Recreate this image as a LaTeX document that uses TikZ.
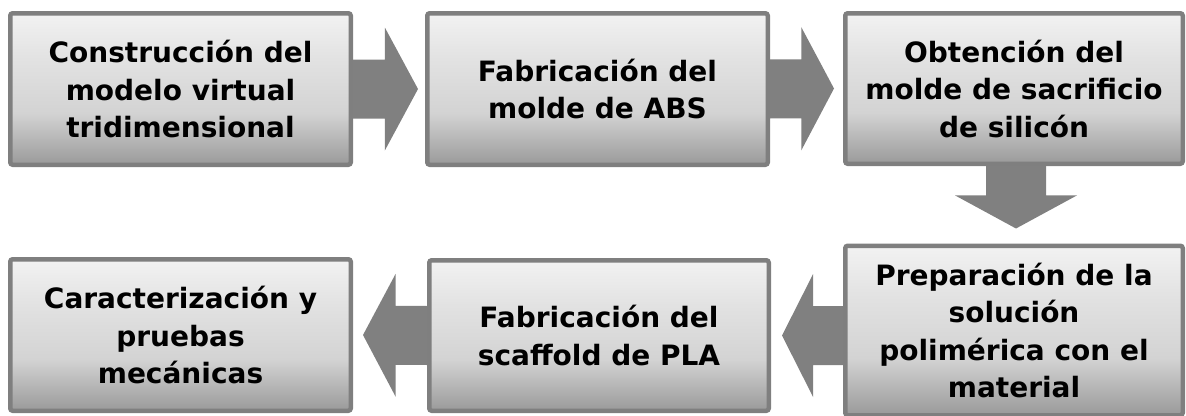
\documentclass[tikz,border=0pt]{standalone}
\usepackage{fontspec}
\newfontfamily\boxfont{DejaVu Sans}
\usetikzlibrary{calc}
\definecolor{boxgray}{HTML}{7F7F7F}
\definecolor{arrgray}{HTML}{808080}
\definecolor{shA}{HTML}{F2F2F2}
\definecolor{shB}{HTML}{E2E2E2}
\definecolor{shC}{HTML}{D3D3D3}
\definecolor{shD}{HTML}{9A9A9A}
\pgfdeclareverticalshading{boxshade}{100bp}{color(0bp)=(shD); color(25bp)=(shD); color(42bp)=(shC); color(60bp)=(shB); color(75bp)=(shA); color(100bp)=(shA)}
\newcommand\harrow[2]{\fill[arrowfill] ($(#1)+(0,-29.5)$) -- ($(#1)!0.49!(#2)+(0,-29.5)$) -- ($(#1)!0.49!(#2)+(0,-61.5)$) -- (#2) -- ($(#1)!0.49!(#2)+(0,61.5)$) -- ($(#1)!0.49!(#2)+(0,29.5)$) -- ($(#1)+(0,29.5)$) -- cycle;}
\newcommand\varrow[2]{\fill[arrowfill] ($(#1)+(-30,0)$) -- ($(#1)!0.47!(#2)+(-30,0)$) -- ($(#1)!0.47!(#2)+(-61,0)$) -- (#2) -- ($(#1)!0.47!(#2)+(61,0)$) -- ($(#1)!0.47!(#2)+(30,0)$) -- ($(#1)+(30,0)$) -- cycle;}
\begin{document}
\begin{tikzpicture}[x=1pt,y=-1pt,
  stepbox/.style={draw=boxgray, line width=4.5pt, rounded corners=2.5pt, shading=boxshade,
    align=center, inner sep=0pt, text=black,
    font=\boxfont\bfseries\fontsize{28}{37.5}\selectfont},
  arrowfill/.style={fill=arrgray}]
\useasboundingbox (0,0) rectangle (1186,415);
\node[stepbox, minimum width=340.5, minimum height=151.5] (b1) at (180.5,89) {Construcción del\\modelo virtual\\tridimensional};
\node[stepbox, minimum width=340.5, minimum height=151.5] (b2) at (597.5,89) {Fabricación del\\molde de ABS};
\node[stepbox, minimum width=337.5, minimum height=150.5] (b3) at (1014,88.5) {Obtención del\\molde de sacrificio\\de silicón};
\node[stepbox, minimum width=337.5, minimum height=169.5] (b4) at (1014,330.5) {Preparación de la\\solución\\polimérica con el\\material};
\node[stepbox, minimum width=340.5, minimum height=151.5] (b5) at (180.5,335) {Caracterización y\\pruebas\\mecánicas};
\node[stepbox, minimum width=339.5, minimum height=150.5] (b6) at (599,335.5) {Fabricación del\\scaffold de PLA};
\coordinate (t12) at ($(b2.west)+(-7,0)$);
\coordinate (t23) at ($(b3.west)+(-9,0)$);
\coordinate (t34) at ($(b4.north)+(2,-15)$);
\coordinate (s34) at ($(b3.south)+(2,0)$);
\coordinate (s46) at (b4.west |- b6.east);
\coordinate (t46) at ($(b6.east)+(11,0)$);
\coordinate (t65) at ($(b5.east)+(10,0)$);
\harrow{b1.east}{t12}
\harrow{b2.east}{t23}
\varrow{s34}{t34}
\harrow{s46}{t46}
\harrow{b6.west}{t65}
\end{tikzpicture}
\end{document}
